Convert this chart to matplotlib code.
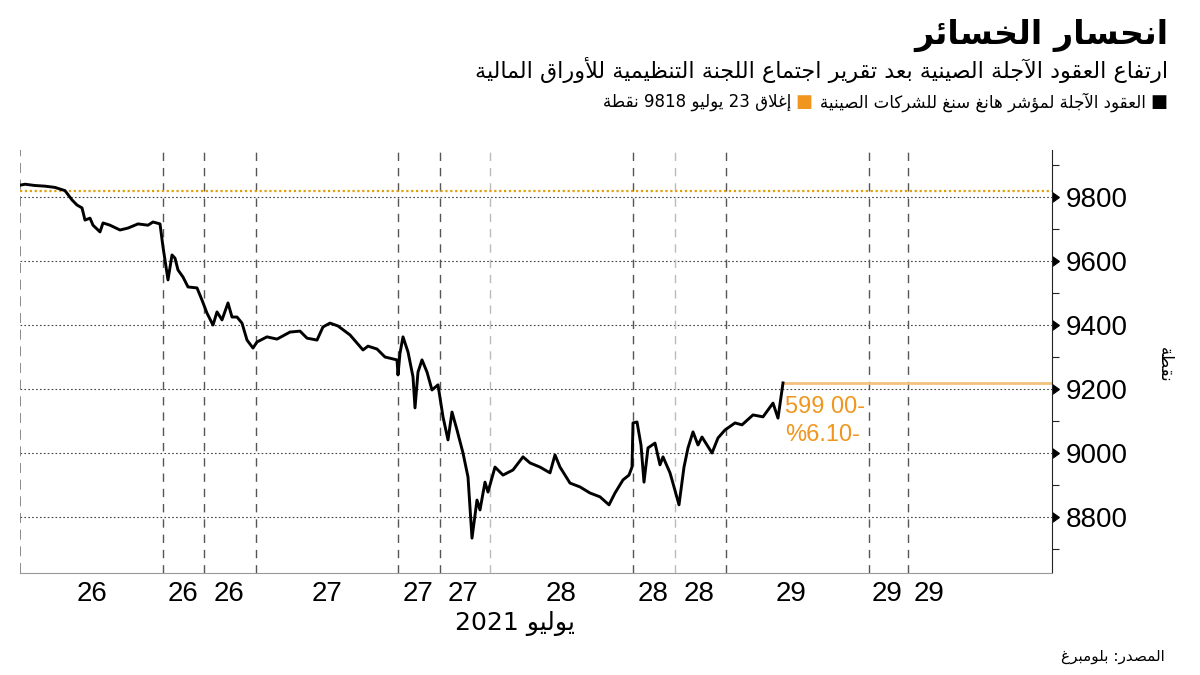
import re
import matplotlib
matplotlib.use("Agg")
from matplotlib import pyplot as plt

# ---- data (x = position along the session axis) ----
pos = [0, 5, 15, 25, 35, 45, 52, 57, 62, 65, 70, 73, 80, 83, 90, 100, 108, 118,
       128, 133, 140, 143, 148, 152, 155, 158, 163, 168, 177, 182, 187, 193, 197,
       202, 208, 212, 217, 222, 227, 233, 237, 247, 257, 270, 280, 287, 297, 303,
       310, 318, 330, 343, 348, 357, 365, 377, 378, 380, 383, 388, 393, 395, 398,
       402, 407, 412, 418, 423, 428, 432, 437, 443, 448, 452, 457, 460, 465, 468,
       475, 483, 493, 503, 510, 520, 530, 535, 540, 550, 560, 570, 580, 589, 595,
       603, 609, 612, 613, 617, 621, 624, 628, 635, 640, 643, 650, 654, 659, 664,
       668, 673, 678, 682, 692, 698, 705, 715, 722, 733, 743, 753, 758, 763]
price = [9837, 9840, 9836, 9834, 9830, 9820, 9791, 9775, 9766, 9728, 9734, 9712,
         9691, 9719, 9712, 9697, 9703, 9716, 9712, 9722, 9716, 9644, 9541, 9619,
         9609, 9572, 9550, 9519, 9516, 9478, 9437, 9400, 9441, 9416, 9469, 9425,
         9425, 9406, 9353, 9328, 9347, 9363, 9356, 9378, 9381, 9359, 9353, 9394,
         9406, 9397, 9369, 9322, 9334, 9325, 9300, 9291, 9244, 9312, 9363, 9316,
         9238, 9141, 9253, 9291, 9253, 9197, 9213, 9113, 9041, 9128, 9072, 9000,
         8925, 8734, 8853, 8822, 8909, 8878, 8956, 8931, 8947, 8988, 8969, 8956,
         8938, 8994, 8956, 8906, 8894, 8875, 8863, 8838, 8875, 8916, 8931, 8956,
         9094, 9097, 9025, 8909, 9016, 9031, 8963, 8988, 8938, 8894, 8838, 8956,
         9016, 9066, 9025, 9050, 9000, 9047, 9072, 9094, 9088, 9119, 9113, 9156,
         9109, 9219]

close_jul23 = 9818
last_price = 9219
change_pts = "599 00-"
change_pct = "%6.10-"

session_edges = [143, 184, 236, 378, 420, 470, 613, 655, 706, 849, 888]
light_edges = [470, 655]
day_label_pos = [72, 163, 209, 307, 398, 443, 541, 633, 679, 771, 867, 909]
day_labels = ["26", "26", "26", "27", "27", "27", "28", "28", "28", "29", "29", "29"]
y_ticks = [8800, 9000, 9200, 9400, 9600, 9800]

title = "انحسار الخسائر"
subtitle = "ارتفاع العقود الآجلة الصينية بعد تقرير اجتماع اللجنة التنظيمية للأوراق المالية"
legend_futures = "العقود الآجلة لمؤشر هانغ سنغ للشركات الصينية"
legend_close = "إغلاق 23 يوليو 9818 نقطة"
y_label = "نقطة"
x_label = "يوليو 2021"
source = "المصدر: بلومبرغ"

ORANGE = "#f0961e"

# ---- tiny arabic shaper (matplotlib has no complex text layout) ----
# letter -> (first presentation form, joining: 0 none, 1 right, 2 dual)
AR_FORMS = {
    'ء': (0xFE80, 0), 'آ': (0xFE81, 1), 'أ': (0xFE83, 1), 'ؤ': (0xFE85, 1),
    'إ': (0xFE87, 1), 'ئ': (0xFE89, 2), 'ا': (0xFE8D, 1), 'ب': (0xFE8F, 2),
    'ة': (0xFE93, 1), 'ت': (0xFE95, 2), 'ث': (0xFE99, 2), 'ج': (0xFE9D, 2),
    'ح': (0xFEA1, 2), 'خ': (0xFEA5, 2), 'د': (0xFEA9, 1), 'ذ': (0xFEAB, 1),
    'ر': (0xFEAD, 1), 'ز': (0xFEAF, 1), 'س': (0xFEB1, 2), 'ش': (0xFEB5, 2),
    'ص': (0xFEB9, 2), 'ض': (0xFEBD, 2), 'ط': (0xFEC1, 2), 'ظ': (0xFEC5, 2),
    'ع': (0xFEC9, 2), 'غ': (0xFECD, 2), 'ف': (0xFED1, 2), 'ق': (0xFED5, 2),
    'ك': (0xFED9, 2), 'ل': (0xFEDD, 2), 'م': (0xFEE1, 2), 'ن': (0xFEE5, 2),
    'ه': (0xFEE9, 2), 'و': (0xFEED, 1), 'ى': (0xFEEF, 1), 'ي': (0xFEF1, 2),
}
LAM_ALEF = {'آ': 0xFEF5, 'أ': 0xFEF7, 'إ': 0xFEF9, 'ا': 0xFEFB}


def shape(s):
    out = []
    i = 0
    while i < len(s):
        c = s[i]
        if c not in AR_FORMS:
            out.append(c)
            i += 1
            continue
        base, kind = AR_FORMS[c]
        prev = s[i - 1] if i > 0 else ''
        link_prev = kind > 0 and prev in AR_FORMS and AR_FORMS[prev][1] == 2
        nxt = s[i + 1] if i + 1 < len(s) else ''
        if c == 'ل' and nxt in LAM_ALEF:
            out.append(chr(LAM_ALEF[nxt] + (1 if link_prev else 0)))
            i += 2
            continue
        link_next = kind == 2 and nxt in AR_FORMS and AR_FORMS[nxt][1] > 0
        if kind == 0:
            form = 0
        elif kind == 1:
            form = 1 if link_prev else 0
        else:
            form = {(False, False): 0, (True, False): 1,
                    (False, True): 2, (True, True): 3}[(link_prev, link_next)]
        out.append(chr(base + form))
        i += 1
    return ''.join(out)


def ar(s):
    vis = shape(s)[::-1]
    return re.sub(r'[0-9]+', lambda m: m.group(0)[::-1], vis)


AR_FONT = ['DejaVu Sans']
NUM_FONT = ['Liberation Sans Narrow', 'Liberation Sans', 'DejaVu Sans']

fig = plt.figure(figsize=(12, 6.75), dpi=100)
ax = fig.add_axes([20 / 1200, 102 / 675, 1032 / 1200, 423 / 675])

ax.set_xlim(0, 1032)
ax.set_ylim(8625, 9947)

# grid and session separators
for v in y_ticks:
    ax.axhline(v, color="#444444", lw=0.8, ls=(0, (1.5, 2)), zorder=1)
ax.axvline(0, color="#777777", lw=1.2, ls=(0, (6, 4)), zorder=1)
for e in session_edges:
    c = "#bbbbbb" if e in light_edges else "#555555"
    ax.axvline(e, color=c, lw=1.0, ls=(0, (6, 5)), zorder=1)

ax.axhline(close_jul23, color="#e0a010", lw=1.6, ls=(0, (1, 1.2)), zorder=2)
ax.plot([pos[-1], 1032], [last_price, last_price], color="#f3c27e", lw=2, zorder=2,
        solid_capstyle="butt")
ax.plot(pos, price, color="black", lw=2.1, zorder=3)

ax.text(pos[-1] + 2, 9145, change_pts, color=ORANGE, fontsize=17,
        family=NUM_FONT, ha="left", va="center")
ax.text(pos[-1] + 2, 9055, change_pct, color=ORANGE, fontsize=17,
        family=NUM_FONT, ha="left", va="center")

# axes styling
for s in ["top", "left"]:
    ax.spines[s].set_visible(False)
ax.spines["right"].set_color("#222222")
ax.spines["bottom"].set_color("#999999")
ax.yaxis.tick_right()
ax.set_yticks(y_ticks)
ax.set_yticks([8700, 8900, 9100, 9300, 9500, 9700, 9900], minor=True)
ax.tick_params(axis="y", which="major", length=0, pad=10, labelsize=20)
ax.tick_params(axis="y", which="minor", length=5, width=0.8, direction="out",
               color="#222222")
for t in ax.yaxis.get_major_ticks():
    t.tick2line.set_marker(9)
    t.tick2line.set_markersize(7)
    t.tick2line.set_color("black")
for lab in ax.get_yticklabels():
    lab.set_family(NUM_FONT)

ax.set_xticks(day_label_pos)
ax.set_xticklabels(day_labels, family=NUM_FONT, fontsize=20)
ax.tick_params(axis="x", length=0, pad=6)

fig.text(515 / 1200, 1 - 623 / 675, ar(x_label), family=AR_FONT, fontsize=18,
         ha="center", va="center")
fig.text(1165 / 1200, 1 - 365 / 675, ar(y_label), family=AR_FONT, fontsize=12,
         rotation=270, ha="center", va="center")

# header texts
fig.text(1168 / 1200, 1 - 35 / 675, ar(title), family=AR_FONT, fontsize=24,
         fontweight="bold", ha="right", va="center")
fig.text(1168 / 1200, 1 - 70 / 675, ar(subtitle), family=AR_FONT, fontsize=16,
         ha="right", va="center")
fig.text(1165 / 1200, 1 - 657 / 675, ar(source), family=AR_FONT, fontsize=11,
         ha="right", va="center")

# legend laid out right to left
fig.canvas.draw()
renderer = fig.canvas.get_renderer()
x_right = 1167
y_leg = 1 - 102 / 675
for txt, col in [(legend_futures, "black"), (legend_close, ORANGE)]:
    sq = fig.text(x_right / 1200, y_leg, "■", color=col, family=AR_FONT,
                  fontsize=13, ha="right", va="center")
    w = sq.get_window_extent(renderer).width
    t = fig.text((x_right - w - 4) / 1200, y_leg, ar(txt), family=AR_FONT,
                 fontsize=12, ha="right", va="center")
    x_right = x_right - w - 4 - t.get_window_extent(renderer).width - 8

fig.savefig("out.png", dpi=100)
